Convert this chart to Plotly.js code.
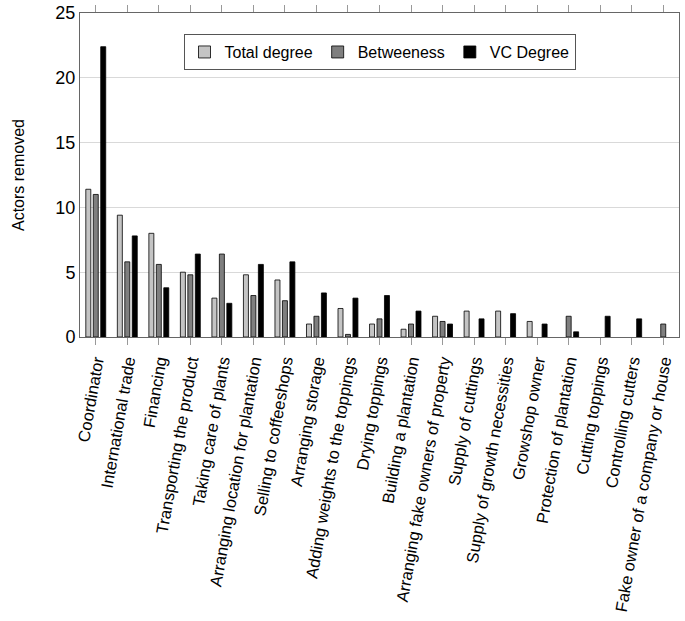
<!DOCTYPE html>
<html><head><meta charset="utf-8">
<script src="https://cdn.plot.ly/plotly-3.0.1.min.js"></script>
<style>html,body{margin:0;padding:0;background:#fff}#chart{width:685px;height:621px}</style>
</head><body><div id="chart"></div>
<script>
const categories = ["Coordinator","International trade","Financing","Transporting the product","Taking care of plants","Arranging location for plantation","Selling to coffeeshops","Arranging storage","Adding weights to the toppings","Drying toppings","Building a plantation","Arranging fake owners of property","Supply of cuttings","Supply of growth necessities","Growshop owner","Protection of plantation","Cutting toppings","Controlling cutters","Fake owner of a company or house"];
const totalDegree = [11.4, 9.4, 8.0, 5.0, 3.0, 4.8, 4.4, 1.0, 2.2, 1.0, 0.6, 1.6, 2.0, 2.0, 1.2, 0, 0, 0, 0];
const betweeness  = [11.0, 5.8, 5.6, 4.8, 6.4, 3.2, 2.8, 1.6, 0.2, 1.4, 1.0, 1.2, 0, 0, 0, 1.6, 0, 0, 1.0];
const vcDegree    = [22.4, 7.8, 3.8, 6.4, 2.6, 5.6, 5.8, 3.4, 3.0, 3.2, 2.0, 1.0, 1.4, 1.8, 1.0, 0.4, 1.6, 1.4, 0];
const yTicks = [0, 5, 10, 15, 20, 25];

const FONT = "Liberation Sans, Arial, sans-serif";
const mk = (name, y, color) => ({
  type: "bar", name: name, x: categories, y: y,
  marker: {color: color, line: {color: "#000", width: y.map(v => v === 0 ? 0 : 0.8)}}
});
const data = [
  mk("Total degree", totalDegree, "#c4c4c4"),
  mk("Betweeness", betweeness, "#7f7f7f"),
  mk("VC Degree", vcDegree, "#000000")
];
const layout = {
  width: 685, height: 621,
  margin: {l: 80, r: 6, t: 13, b: 284},
  paper_bgcolor: "#fff", plot_bgcolor: "#fff",
  font: {family: FONT, color: "#000", size: 16},
  barmode: "group", bargap: 0.29, bargroupgap: 0.33,
  showlegend: true,
  legend: {orientation: "h", x: 0.5, xanchor: "center", y: 0.935, yanchor: "top",
           bordercolor: "#555", borderwidth: 1, bgcolor: "#fff",
           font: {family: FONT, size: 16}, itemwidth: 30, tracegroupgap: 0},
  xaxis: {
    type: "category", tickangle: -80, showgrid: false,
    showline: true, linecolor: "#666", linewidth: 1, mirror: "ticks",
    ticks: "outside", ticklen: 7, tickcolor: "#999",
    tickfont: {family: FONT, size: 16.5}
  },
  yaxis: {
    range: [0, 25], tickvals: yTicks, ticktext: yTicks.map(String),
    showgrid: true, gridcolor: "#d9d9d9", gridwidth: 1,
    showline: true, linecolor: "#666", linewidth: 1, mirror: true,
    ticks: "", zeroline: false,
    tickfont: {family: FONT, size: 18},
    title: {text: "Actors removed", font: {family: FONT, size: 16}, standoff: 26}
  }
};
Plotly.newPlot("chart", data, layout, {displayModeBar: false, staticPlot: true});
</script></body></html>
